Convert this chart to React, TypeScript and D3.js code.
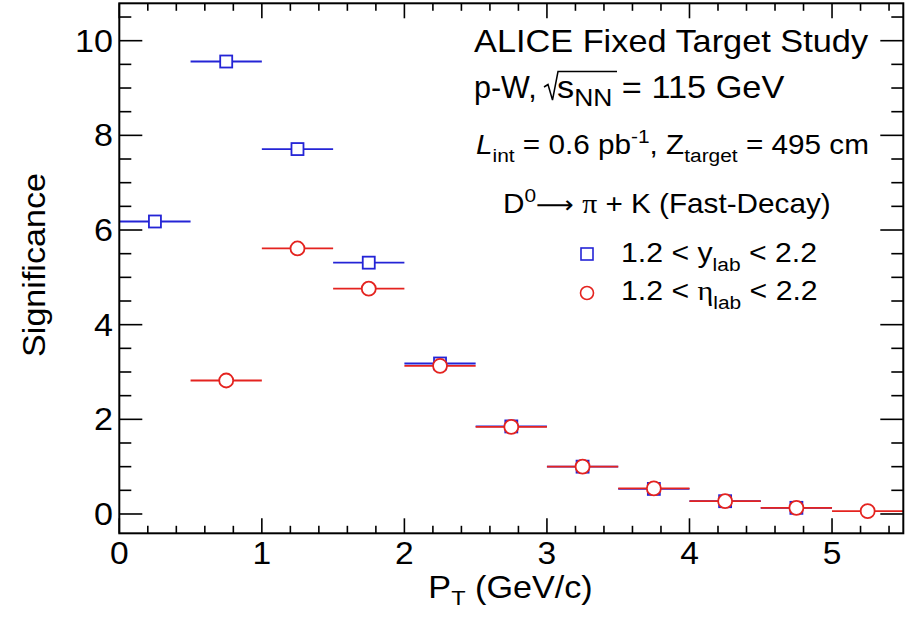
import React from "react";
import * as d3 from "d3";

// ---- data ----
const binCenters = [0.25, 0.75, 1.25, 1.75, 2.25, 2.75, 3.25, 3.75, 4.25, 4.75, 5.25];
const binHalfWidth = 0.25;
const yLabValues: (number | null)[] = [6.18, 9.56, 7.71, 5.31, 3.18, 1.85, 1.0, 0.53, 0.27, 0.13, null];
const etaLabValues: (number | null)[] = [null, 2.82, 5.61, 4.76, 3.13, 1.84, 1.0, 0.54, 0.27, 0.13, 0.06];
const xTickLabels = ["0", "1", "2", "3", "4", "5"];
const yTickLabels = ["0", "2", "4", "6", "8", "10"];

const W = 912;
const H = 617;
const L = 119.3, R = 903.3, T = 3.3, B = 533.3;
const FONT = "'Liberation Sans', Arial, Helvetica, sans-serif";
const GREEK = "'Liberation Serif', 'DejaVu Serif', serif";
const SX = 1.1;
const BLUE = "#2424d6";
const RED = "#e4231f";

export default function App() {
  const x = d3.scaleLinear().domain([0, 5.5]).range([L, R]);
  const y = d3.scaleLinear().domain([-0.408, 10.79]).range([B, T]);

  const yMinor = d3.range(0, 10.8, 0.5).filter((v) => Math.abs(v / 2 - Math.round(v / 2)) > 1e-6);
  const yMajor = d3.range(0, 11, 2);
  const xMinor = d3.range(0, 5.5, 0.2).filter((v) => Math.abs(v - Math.round(v)) > 1e-6);
  const xMajor = d3.range(0, 6, 1);

  const blue = binCenters.map((c, i) => ({ c, v: yLabValues[i] })).filter((d) => d.v !== null) as { c: number; v: number }[];
  const red = binCenters.map((c, i) => ({ c, v: etaLabValues[i] })).filter((d) => d.v !== null) as { c: number; v: number }[];

  const sw = 1.8;
  const stretch = (tx: number, ty: number, s = SX) => `translate(${tx},${ty}) scale(${s},1)`;

  return (
    <svg width={W} height={H} style={{ position: "absolute", left: 0, top: 0, background: "#fff" }} fontFamily={FONT}>
      <rect x={0} y={0} width={W} height={H} fill="#fff" />
      {/* error bars */}
      {blue.map((d, i) => (
        <line key={"bl" + i} x1={x(d.c - binHalfWidth)} x2={x(Math.min(d.c + binHalfWidth, 5.5))} y1={y(d.v)} y2={y(d.v)} stroke={BLUE} strokeWidth={sw} />
      ))}
      {red.map((d, i) => (
        <line key={"rl" + i} x1={x(d.c - binHalfWidth)} x2={x(Math.min(d.c + binHalfWidth, 5.5))} y1={y(d.v)} y2={y(d.v)} stroke={RED} strokeWidth={sw} />
      ))}
      {blue.map((d, i) => (
        <rect key={"bs" + i} x={x(d.c) - 6} y={y(d.v) - 6} width={12} height={12} fill="#fff" stroke={BLUE} strokeWidth={sw} />
      ))}
      {red.map((d, i) => (
        <circle key={"rc" + i} cx={x(d.c)} cy={y(d.v)} r={7} fill="#fff" stroke={RED} strokeWidth={sw} />
      ))}

      {/* frame */}
      <rect x={L} y={T} width={R - L} height={B - T} fill="none" stroke="#000" strokeWidth={2} />
      {/* y ticks */}
      {yMajor.map((v) => (
        <g key={"ym" + v}>
          <line x1={L} x2={L + 23} y1={y(v)} y2={y(v)} stroke="#000" strokeWidth={1.6} />
          <line x1={R} x2={R - 23} y1={y(v)} y2={y(v)} stroke="#000" strokeWidth={1.6} />
        </g>
      ))}
      {yMinor.map((v) => (
        <g key={"yn" + v}>
          <line x1={L} x2={L + 12} y1={y(v)} y2={y(v)} stroke="#000" strokeWidth={1.6} />
          <line x1={R} x2={R - 12} y1={y(v)} y2={y(v)} stroke="#000" strokeWidth={1.6} />
        </g>
      ))}
      {/* x ticks */}
      {xMajor.map((v) => (
        <g key={"xm" + v}>
          <line x1={x(v)} x2={x(v)} y1={B} y2={B - 15} stroke="#000" strokeWidth={1.6} />
          <line x1={x(v)} x2={x(v)} y1={T} y2={T + 15} stroke="#000" strokeWidth={1.6} />
        </g>
      ))}
      {xMinor.map((v) => (
        <g key={"xn" + v}>
          <line x1={x(v)} x2={x(v)} y1={B} y2={B - 7.5} stroke="#000" strokeWidth={1.6} />
          <line x1={x(v)} x2={x(v)} y1={T} y2={T + 7.5} stroke="#000" strokeWidth={1.6} />
        </g>
      ))}
      {/* tick labels */}
      {yTickLabels.map((t) => (
        <text key={"yl" + t} transform={stretch(113, y(+t) + 11)} textAnchor="end" fontSize={31}>{t}</text>
      ))}
      {xTickLabels.map((t) => (
        <text key={"xl" + t} transform={stretch(x(+t), 564)} textAnchor="middle" fontSize={30.5}>{t}</text>
      ))}
      {/* axis titles */}
      <text transform={`translate(45,265) rotate(-90) scale(${SX},1)`} textAnchor="middle" fontSize={31}>Significance</text>
      <text transform={stretch(510.5, 598, 1.12)} textAnchor="middle" fontSize={30.5}>
        P<tspan fontSize={21} dy={7}>T</tspan><tspan dy={-7}> (GeV/c)</tspan>
      </text>

      {/* annotations */}
      <text transform={stretch(474, 52, 1.125)} fontSize={30.5}>ALICE Fixed Target Study</text>
      <text transform={stretch(474, 98, 1.0)} fontSize={30.5}>p-W,</text>
      <path d="M544,87 L548,84.5 L552.5,100 L558,71.5 H617" fill="none" stroke="#000" strokeWidth={1.5} strokeLinejoin="miter" />
      <text transform={stretch(557, 98, 1.125)} fontSize={30.5}>
        s<tspan fontSize={23.5} dy={8}>NN</tspan><tspan dy={-8}> = 115 GeV</tspan>
      </text>
      <text transform={stretch(476, 154)} fontSize={27}>
        <tspan fontStyle="italic">L</tspan><tspan fontSize={19} dy={8}>int</tspan><tspan dy={-8}> = 0.6 pb</tspan><tspan fontSize={19} dy={-11}>-1</tspan><tspan dy={11}>, Z</tspan><tspan fontSize={19} dy={8}>target</tspan><tspan dy={-8}> = 495 cm</tspan>
      </text>
      <text transform={stretch(503, 213)} fontSize={27}>
        D<tspan fontSize={19} dy={-11}>0</tspan><tspan dy={11} fontFamily="'DejaVu Sans', sans-serif" fontSize={24}>⟶</tspan> <tspan fontFamily={GREEK}>π</tspan> + K (Fast-Decay)
      </text>
      {/* legend */}
      <rect x={581} y={248} width={12} height={12} fill="#fff" stroke={BLUE} strokeWidth={1.6} />
      <circle cx={587} cy={293} r={6.5} fill="#fff" stroke={RED} strokeWidth={1.6} />
      <text transform={stretch(621, 262)} fontSize={27.5}>
        1.2 &lt; y<tspan fontSize={19} dy={9}>lab</tspan><tspan dy={-9}> &lt; 2.2</tspan>
      </text>
      <text transform={stretch(621, 300)} fontSize={27.5}>
        1.2 &lt; <tspan fontFamily={GREEK}>η</tspan><tspan fontSize={19} dy={9}>lab</tspan><tspan dy={-9}> &lt; 2.2</tspan>
      </text>
    </svg>
  );
}
